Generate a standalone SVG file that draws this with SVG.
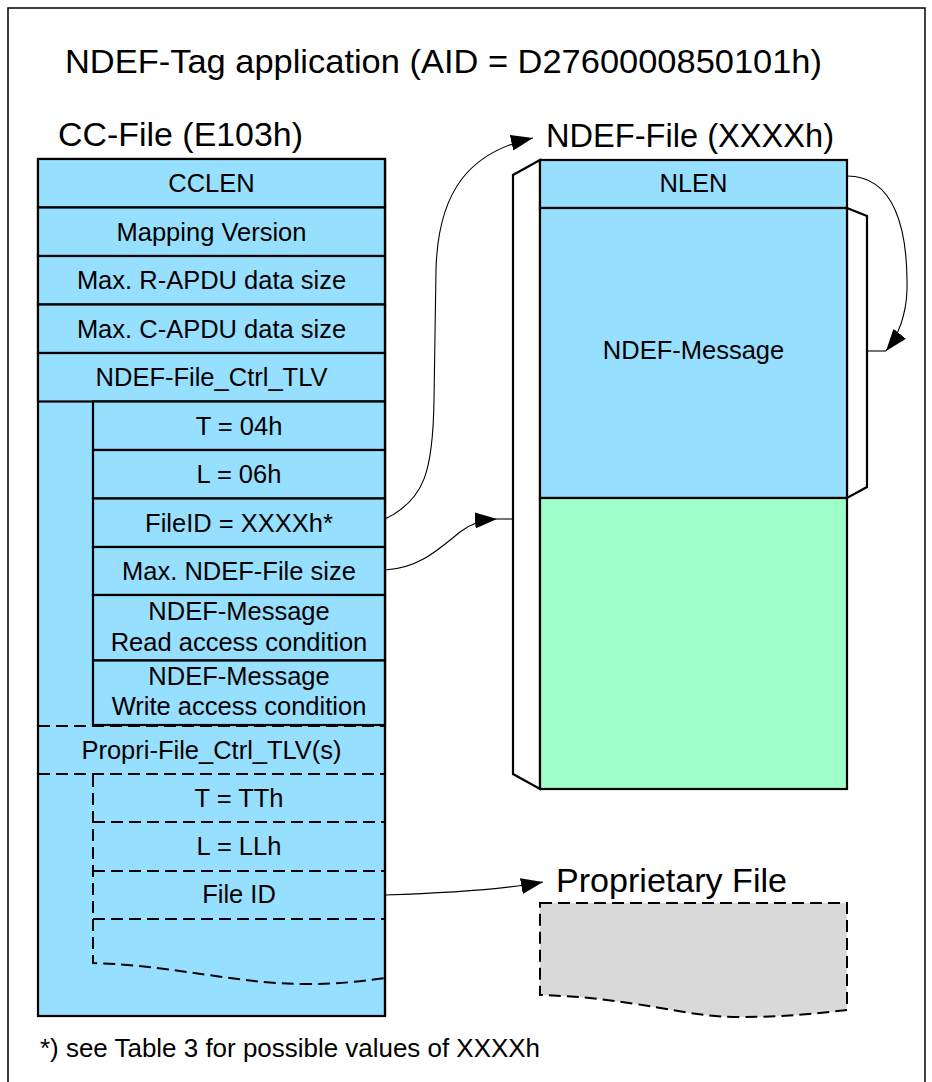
<svg xmlns="http://www.w3.org/2000/svg" width="932" height="1082" viewBox="0 0 932 1082">
  <style>
    text { font-family: "Liberation Sans", Arial, sans-serif; fill: #000; }
    .head { font-size: 34px; }
    .cell-text { font-size: 25.5px; text-anchor: middle; }
    .note { font-size: 25px; }
    .cell { fill: #97DFFF; stroke: #000; stroke-width: 2.2; }
    .free { fill: #9EFFC8; stroke: #000; stroke-width: 2.2; }
    .bracket { fill: #fff; stroke: #000; stroke-width: 2.2; stroke-linejoin: miter; }
    .dash { fill: none; stroke: #000; stroke-width: 2; stroke-dasharray: 12 6; }
    .link { fill: none; stroke: #000; stroke-width: 1.1; }
  </style>
  <defs>
    <marker id="arrow" markerUnits="userSpaceOnUse" markerWidth="22" markerHeight="16" viewBox="0 0 22 16" refX="22" refY="8" orient="auto">
      <path d="M0,0 L22,8 L0,16 Z" fill="#000"/>
    </marker>
  </defs>

  <!-- page frame -->
  <rect x="8" y="8" width="917" height="1090" fill="#fff" stroke="#000" stroke-width="1.5"/>

  <!-- headings -->
  <g id="headings">
    <text class="head" x="65" y="73" textLength="757" lengthAdjust="spacingAndGlyphs">NDEF-Tag application (AID = D2760000850101h)</text>
    <text class="head" x="58" y="146" textLength="245" lengthAdjust="spacingAndGlyphs">CC-File (E103h)</text>
    <text class="head" x="546" y="147" textLength="288" lengthAdjust="spacingAndGlyphs">NDEF-File (XXXXh)</text>
    <text class="head" x="556" y="892" textLength="231" lengthAdjust="spacingAndGlyphs">Proprietary File</text>
  </g>

  <!-- capability container file -->
  <g id="cc-file">
    <rect class="cell" x="38" y="159" width="347" height="857"/>
    <g id="cclen">
      <rect class="cell" x="38" y="159" width="347" height="48.5"/>
      <text class="cell-text" x="211.5" y="192">CCLEN</text>
    </g>
    <g id="mapping-version">
      <rect class="cell" x="38" y="207.5" width="347" height="48.5"/>
      <text class="cell-text" x="211.5" y="241">Mapping Version</text>
    </g>
    <g id="max-rapdu">
      <rect class="cell" x="38" y="256" width="347" height="48.5"/>
      <text class="cell-text" x="211.5" y="289">Max. R-APDU data size</text>
    </g>
    <g id="max-capdu">
      <rect class="cell" x="38" y="304.5" width="347" height="48.5"/>
      <text class="cell-text" x="211.5" y="338">Max. C-APDU data size</text>
    </g>
    <g id="ndef-ctrl-tlv">
      <rect class="cell" x="38" y="353" width="347" height="48.5"/>
      <text class="cell-text" x="211.5" y="386">NDEF-File_Ctrl_TLV</text>
    </g>
    <g id="tlv-t">
      <rect class="cell" x="93" y="401.5" width="292" height="48.5"/>
      <text class="cell-text" x="239" y="434.5">T = 04h</text>
    </g>
    <g id="tlv-l">
      <rect class="cell" x="93" y="450" width="292" height="48.5"/>
      <text class="cell-text" x="239" y="483">L = 06h</text>
    </g>
    <g id="tlv-fileid">
      <rect class="cell" x="93" y="498.5" width="292" height="48.5"/>
      <text class="cell-text" x="239" y="531.5">FileID = XXXXh*</text>
    </g>
    <g id="tlv-maxsize">
      <rect class="cell" x="93" y="547" width="292" height="48"/>
      <text class="cell-text" x="239" y="580">Max. NDEF-File size</text>
    </g>
    <g id="tlv-read">
      <rect class="cell" x="93" y="595" width="292" height="65.5"/>
      <text class="cell-text" x="239" y="620">NDEF-Message</text>
      <text class="cell-text" x="239" y="651">Read access condition</text>
    </g>
    <g id="tlv-write">
      <rect class="cell" x="93" y="660.5" width="292" height="64.5"/>
      <text class="cell-text" x="239" y="685">NDEF-Message</text>
      <text class="cell-text" x="239" y="715">Write access condition</text>
    </g>
    <g id="propri-ctrl-tlv">
      <path class="dash" d="M38,726 H385 M38,774 H385"/>
      <text class="cell-text" x="211.5" y="759">Propri-File_Ctrl_TLV(s)</text>
    </g>
    <g id="propri-tlv">
      <path class="dash" d="M93,775 V963 C180,966 235,984 307,984 C340,984 365,981 385,978"/>
      <path class="dash" d="M93,822 H385 M93,871 H385 M93,919 H385"/>
      <text class="cell-text" x="239" y="807">T = TTh</text>
      <text class="cell-text" x="239" y="855">L = LLh</text>
      <text class="cell-text" x="239" y="903">File ID</text>
    </g>
    <line x1="385" y1="159" x2="385" y2="1016" stroke="#000" stroke-width="2.2"/>
  </g>

  <!-- NDEF file -->
  <g id="ndef-file">
    <polygon class="bracket" points="540,160 513,175 513,774 540,789"/>
    <polygon class="bracket" points="847,208 867,216 867,487 847,498"/>
    <g id="nlen">
      <rect class="cell" x="540" y="160" width="307" height="48"/>
      <text class="cell-text" x="693.5" y="192">NLEN</text>
    </g>
    <g id="ndef-message">
      <rect class="cell" x="540" y="208" width="307" height="290"/>
      <text class="cell-text" x="693.5" y="359">NDEF-Message</text>
    </g>
    <rect id="ndef-free" class="free" x="540" y="498" width="307" height="291"/>
  </g>

  <!-- proprietary file -->
  <g id="proprietary-file">
    <path d="M540,903 H847 V1010 C820,1013 790,1017 740,1017 C680,1017 640,998 540,995 Z" fill="#D9D9D9" stroke="#000" stroke-width="2" stroke-dasharray="12 6"/>
  </g>

  <!-- references between files -->
  <g id="connectors">
    <path class="link" d="M385,519 C425,500 433,470 434,400 L436,270 C438,190 470,152 533,138" marker-end="url(#arrow)"/>
    <path class="link" d="M385,570 C420,568 440,548 460,532 C472,523 482,520 497,519" marker-end="url(#arrow)"/>
    <path class="link" d="M497,519 H513"/>
    <path class="link" d="M847,176 C895,176 908,230 907,290 C906,318 898,336 886,351" marker-end="url(#arrow)"/>
    <path class="link" d="M867,351 H886"/>
    <path class="link" d="M385,895 C450,893 500,890 543,882" marker-end="url(#arrow)"/>
  </g>

  <!-- footnote -->
  <text id="footnote" class="note" x="40" y="1057" textLength="500" lengthAdjust="spacingAndGlyphs">*) see Table 3 for possible values of XXXXh</text>
</svg>
